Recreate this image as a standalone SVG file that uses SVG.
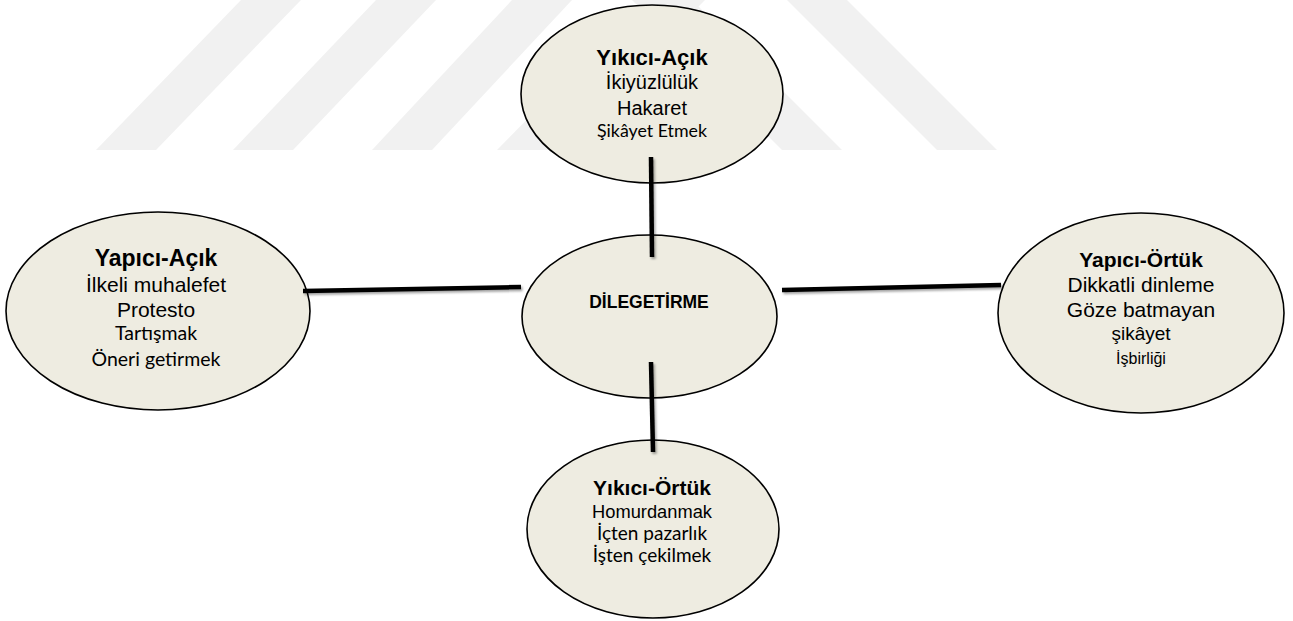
<svg xmlns="http://www.w3.org/2000/svg" width="1293" height="621" viewBox="0 0 1293 621">
<style>
.node{fill:#eeece1;stroke:#000;stroke-width:1.6}
.t{font-family:"Liberation Sans",Arial,sans-serif;fill:#000;text-anchor:middle}
.b{font-weight:bold}
.c{font-family:Lato,"Liberation Sans",sans-serif;fill:#000;text-anchor:middle}
.wm{fill:#f1f1f1}
.conn{stroke:#000;stroke-width:4.5;stroke-linecap:butt;fill:none}
</style>
<defs>
<filter id="sh" x="-20%" y="-50%" width="140%" height="200%">
<feDropShadow dx="1.5" dy="2" stdDeviation="1.2" flood-color="#000" flood-opacity="0.35"/>
</filter>
</defs>
<rect width="1293" height="621" fill="#fff"/>
<g id="watermark">
<polygon class="wm" points="241,0 301,0 156,150 96,150"/>
<polygon class="wm" points="376,0 436,0 293,150 233,150"/>
<polygon class="wm" points="512,0 572,0 432,150 372,150"/>
<polygon class="wm" points="645,0 705,0 557,150 497,150"/>
<polygon class="wm" points="632,0 692,0 842,150 782,150"/>
<polygon class="wm" points="787,0 847,0 997,150 937,150"/>
</g>
<g id="n-top">
<ellipse class="node" cx="652" cy="94" rx="131" ry="89"/>
<text class="t b" x="652" y="65" font-size="22">Yıkıcı-Açık</text>
<text class="t" x="652" y="89" font-size="20">İkiyüzlülük</text>
<text class="t" x="652" y="115" font-size="20">Hakaret</text>
<text class="c" x="652" y="137" font-size="17.8">Şikâyet Etmek</text>
</g>
<g id="n-left">
<ellipse class="node" cx="158" cy="311" rx="152" ry="99"/>
<text class="t b" x="156" y="266" font-size="23">Yapıcı-Açık</text>
<text class="t" x="156" y="292" font-size="21">İlkeli muhalefet</text>
<text class="t" x="156" y="317" font-size="21">Protesto</text>
<text class="c" x="156" y="340" font-size="19.5">Tartışmak</text>
<text class="c" x="156" y="366" font-size="19.5">Öneri getirmek</text>
</g>
<g id="n-center">
<ellipse class="node" cx="649.5" cy="316.5" rx="127.5" ry="81.5"/>
<text class="t b" x="649" y="308" font-size="17.5">DİLEGETİRME</text>
</g>
<g id="n-right">
<ellipse class="node" cx="1141" cy="313" rx="143" ry="100"/>
<text class="t b" x="1141" y="267" font-size="21">Yapıcı-Örtük</text>
<text class="t" x="1141" y="292" font-size="21">Dikkatli dinleme</text>
<text class="t" x="1141" y="317" font-size="21">Göze batmayan</text>
<text class="t" x="1141" y="340" font-size="19">şikâyet</text>
<text class="t" x="1141" y="364" font-size="16">İşbirliği</text>
</g>
<g id="n-bottom">
<ellipse class="node" cx="653" cy="529" rx="126" ry="89"/>
<text class="t b" x="652" y="495" font-size="21">Yıkıcı-Örtük</text>
<text class="t" x="652" y="518" font-size="18.3">Homurdanmak</text>
<text class="c" x="652" y="540" font-size="19">İçten pazarlık</text>
<text class="c" x="652" y="562" font-size="19">İşten çekilmek</text>
</g>
<g id="connectors" filter="url(#sh)">
<line class="conn" x1="651" y1="157" x2="652" y2="257"/>
<line class="conn" x1="303" y1="291" x2="521" y2="287"/>
<line class="conn" x1="782" y1="290" x2="1001" y2="285"/>
<line class="conn" x1="651" y1="362" x2="653" y2="452"/>
</g>
</svg>
